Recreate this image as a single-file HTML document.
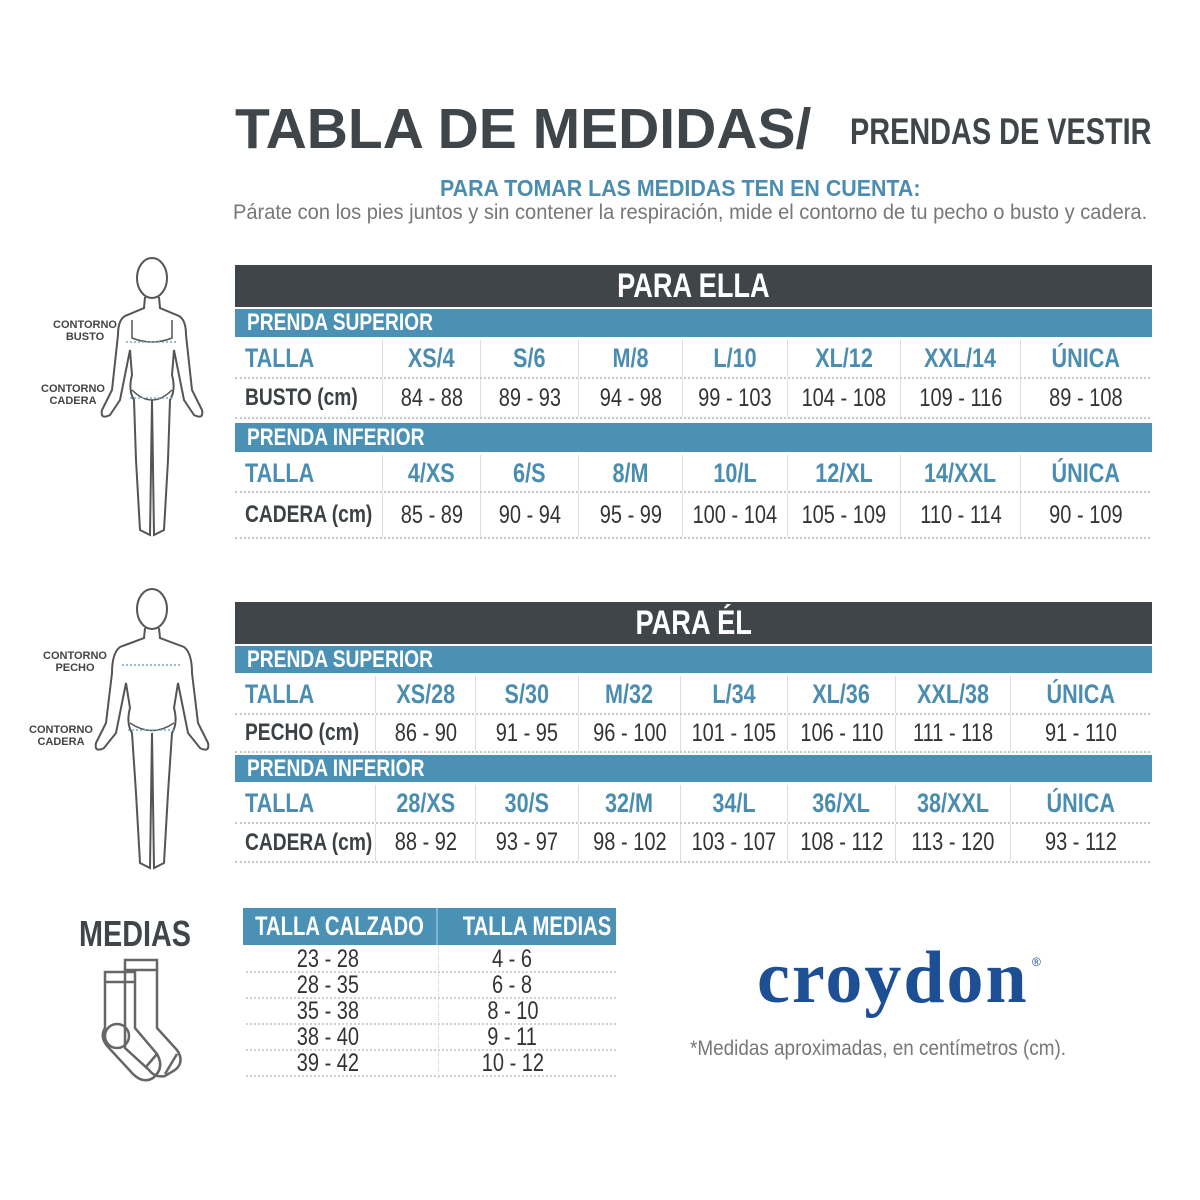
<!DOCTYPE html>
<html><head><meta charset="utf-8">
<style>
*{margin:0;padding:0;box-sizing:border-box}
body{width:1200px;height:1200px;background:#fff;position:relative;overflow:hidden;font-family:"Liberation Sans",sans-serif;color:#333}
.a{position:absolute;white-space:nowrap}
span.n{display:inline-block;transform:scaleX(.8);white-space:nowrap}
span.l{display:inline-block;transform:scaleX(.8);transform-origin:left center;white-space:nowrap}
.hd{background:#3f4549;color:#fff;font-weight:bold;font-size:34px;display:flex;align-items:center;justify-content:center}
.band{background:#4a91b5;color:#fff;font-weight:bold;font-size:24px;display:flex;align-items:center;padding-left:12px}
.row{display:flex;border-bottom:2px dotted #c8c8c8}
.row div{display:flex;align-items:center;justify-content:center;border-left:1.5px solid #ddd;height:100%;white-space:nowrap}
.row div:first-child{border-left:none;justify-content:flex-start;padding-left:10px;font-weight:bold}
.t div{color:#4a8db0;font-weight:bold;font-size:27px}
.v div{color:#333;font-size:25px}
.v div:first-child{color:#3c4145;font-size:24px}
.lbl{font-weight:bold;font-size:11px;color:#444;text-align:center;line-height:12px}
.sr{display:flex;border-bottom:2px dotted #d0d0d0;height:26px;font-size:25px;color:#333}
.sr div{display:flex;align-items:center;justify-content:center}
</style></head><body>

<div class="a" style="left:235px;top:96px;font-weight:bold;font-size:57px;color:#3f4549">TABLA DE MEDIDAS/</div>
<div class="a" style="left:850px;top:111px;font-weight:bold;font-size:37px;color:#3f4549;transform:scaleX(.78);transform-origin:left">PRENDAS DE VESTIR</div>
<div class="a" style="left:440px;top:175px;font-weight:bold;font-size:23px;color:#4a8db0;transform:scaleX(.93);transform-origin:left">PARA TOMAR LAS MEDIDAS TEN EN CUENTA:</div>
<div class="a" style="left:233px;top:201px;font-size:21px;color:#777;transform:scaleX(.955);transform-origin:left">Párate con los pies juntos y sin contener la respiración, mide el contorno de tu pecho o busto y cadera.</div>

<!-- PARA ELLA -->
<div class="a hd" style="left:235px;top:265px;width:917px;height:42px"><span class="n">PARA ELLA</span></div>
<div class="a band" style="left:235px;top:309px;width:917px;height:28px"><span class="l">PRENDA SUPERIOR</span></div>
<div class="a row t" style="left:235px;top:340px;width:915px;height:39px"><div style="width:147px"><span class="l">TALLA</span></div><div style="width:98px"><span class="n">XS/4</span></div><div style="width:98px"><span class="n">S/6</span></div><div style="width:104px"><span class="n">M/8</span></div><div style="width:105px"><span class="n">L/10</span></div><div style="width:113px"><span class="n">XL/12</span></div><div style="width:120px"><span class="n">XXL/14</span></div><div style="width:130px"><span class="n">ÚNICA</span></div></div>
<div class="a row v" style="left:235px;top:379px;width:915px;height:40px"><div style="width:147px"><span class="l">BUSTO (cm)</span></div><div style="width:98px"><span class="n">84 - 88</span></div><div style="width:98px"><span class="n">89 - 93</span></div><div style="width:104px"><span class="n">94 - 98</span></div><div style="width:105px"><span class="n">99 - 103</span></div><div style="width:113px"><span class="n">104 - 108</span></div><div style="width:120px"><span class="n">109 - 116</span></div><div style="width:130px"><span class="n">89 - 108</span></div></div>
<div class="a band" style="left:235px;top:423px;width:917px;height:29px"><span class="l">PRENDA INFERIOR</span></div>
<div class="a row t" style="left:235px;top:455px;width:915px;height:38px"><div style="width:147px"><span class="l">TALLA</span></div><div style="width:98px"><span class="n">4/XS</span></div><div style="width:98px"><span class="n">6/S</span></div><div style="width:104px"><span class="n">8/M</span></div><div style="width:105px"><span class="n">10/L</span></div><div style="width:113px"><span class="n">12/XL</span></div><div style="width:120px"><span class="n">14/XXL</span></div><div style="width:130px"><span class="n">ÚNICA</span></div></div>
<div class="a row v" style="left:235px;top:493px;width:915px;height:46px"><div style="width:147px"><span class="l">CADERA (cm)</span></div><div style="width:98px"><span class="n">85 - 89</span></div><div style="width:98px"><span class="n">90 - 94</span></div><div style="width:104px"><span class="n">95 - 99</span></div><div style="width:105px"><span class="n">100 - 104</span></div><div style="width:113px"><span class="n">105 - 109</span></div><div style="width:120px"><span class="n">110 - 114</span></div><div style="width:130px"><span class="n">90 - 109</span></div></div>

<!-- PARA EL -->
<div class="a hd" style="left:235px;top:602px;width:917px;height:42px"><span class="n">PARA ÉL</span></div>
<div class="a band" style="left:235px;top:646px;width:917px;height:27px"><span class="l">PRENDA SUPERIOR</span></div>
<div class="a row t" style="left:235px;top:676px;width:915px;height:39px"><div style="width:140px"><span class="l">TALLA</span></div><div style="width:100px"><span class="n">XS/28</span></div><div style="width:103px"><span class="n">S/30</span></div><div style="width:102px"><span class="n">M/32</span></div><div style="width:107px"><span class="n">L/34</span></div><div style="width:108px"><span class="n">XL/36</span></div><div style="width:115px"><span class="n">XXL/38</span></div><div style="width:140px"><span class="n">ÚNICA</span></div></div>
<div class="a row v" style="left:235px;top:715px;width:915px;height:38px"><div style="width:140px"><span class="l">PECHO (cm)</span></div><div style="width:100px"><span class="n">86 - 90</span></div><div style="width:103px"><span class="n">91 - 95</span></div><div style="width:102px"><span class="n">96 - 100</span></div><div style="width:107px"><span class="n">101 - 105</span></div><div style="width:108px"><span class="n">106 - 110</span></div><div style="width:115px"><span class="n">111 - 118</span></div><div style="width:140px"><span class="n">91 - 110</span></div></div>
<div class="a band" style="left:235px;top:755px;width:917px;height:27px"><span class="l">PRENDA INFERIOR</span></div>
<div class="a row t" style="left:235px;top:785px;width:915px;height:39px"><div style="width:140px"><span class="l">TALLA</span></div><div style="width:100px"><span class="n">28/XS</span></div><div style="width:103px"><span class="n">30/S</span></div><div style="width:102px"><span class="n">32/M</span></div><div style="width:107px"><span class="n">34/L</span></div><div style="width:108px"><span class="n">36/XL</span></div><div style="width:115px"><span class="n">38/XXL</span></div><div style="width:140px"><span class="n">ÚNICA</span></div></div>
<div class="a row v" style="left:235px;top:824px;width:915px;height:39px"><div style="width:140px"><span class="l">CADERA (cm)</span></div><div style="width:100px"><span class="n">88 - 92</span></div><div style="width:103px"><span class="n">93 - 97</span></div><div style="width:102px"><span class="n">98 - 102</span></div><div style="width:107px"><span class="n">103 - 107</span></div><div style="width:108px"><span class="n">108 - 112</span></div><div style="width:115px"><span class="n">113 - 120</span></div><div style="width:140px"><span class="n">93 - 112</span></div></div>

<!-- figures -->
<svg class="a" style="left:90px;top:250px" width="130" height="295" viewBox="0 0 130 295" fill="none" stroke="#555" stroke-width="2">
<ellipse cx="62" cy="28" rx="15" ry="20"/>
<path d="M55 47 L54 58 L35 66 Q28 70 28 85 L22 140 L12 160 Q10 170 20 165 L30 150 L40 100 L42 125 Q38 140 44 150 L46 210 L50 280 L60 285 L62 150 M69 47 L70 58 L89 66 Q96 70 96 85 L102 140 L112 160 Q114 170 104 165 L94 150 L84 100 L82 125 Q86 140 80 150 L78 210 L74 280 L64 285 L62 150"/>
<path d="M42 70 L42 88 Q62 96 82 88 L82 70" stroke-width="1.5"/>
<path d="M42 140 Q62 160 82 140" stroke-width="1.5"/>
<line x1="36" y1="92" x2="88" y2="92" stroke="#7ab" stroke-dasharray="2 2" stroke-width="1.5"/>
<line x1="40" y1="148" x2="84" y2="148" stroke="#7ab" stroke-dasharray="2 2" stroke-width="1.5"/>
</svg>
<div class="a lbl" style="left:50px;top:319px;width:70px">CONTORNO<br>BUSTO</div>
<div class="a lbl" style="left:38px;top:383px;width:70px">CONTORNO<br>CADERA</div>

<svg class="a" style="left:90px;top:583px" width="130" height="295" viewBox="0 0 130 295" fill="none" stroke="#555" stroke-width="2">
<ellipse cx="62" cy="26" rx="15" ry="20"/>
<path d="M55 45 L54 55 L30 64 Q22 70 22 90 L16 140 L6 160 Q4 170 14 165 L26 150 L36 100 L40 125 Q36 140 42 150 L46 210 L50 280 L60 285 L62 150 M69 45 L70 55 L94 64 Q102 70 102 90 L108 140 L118 160 Q120 170 110 165 L98 150 L88 100 L84 125 Q88 140 82 150 L78 210 L74 280 L64 285 L62 150"/>
<path d="M40 140 Q62 155 84 140" stroke-width="1.5"/>
<line x1="32" y1="82" x2="92" y2="82" stroke="#7ab" stroke-dasharray="2 2" stroke-width="1.5"/>
<line x1="38" y1="147" x2="86" y2="147" stroke="#7ab" stroke-dasharray="2 2" stroke-width="1.5"/>
</svg>
<div class="a lbl" style="left:40px;top:650px;width:70px">CONTORNO<br>PECHO</div>
<div class="a lbl" style="left:26px;top:724px;width:70px">CONTORNO<br>CADERA</div>

<!-- medias -->
<div class="a" style="left:79px;top:913px;font-weight:bold;font-size:36px;color:#3f4549;transform:scaleX(.8);transform-origin:left">MEDIAS</div>
<svg class="a" style="left:95px;top:958px" width="100" height="125" viewBox="0 0 100 125" fill="none" stroke="#666" stroke-width="2.5">
<path d="M30 2 H62 V70 L82 92 Q90 104 80 112 L70 118 Q60 120 54 112 L30 90 Z M30 12 H62"/>
<path d="M10 14 H40 V70 L62 96 Q70 110 58 120 Q48 126 38 116 L14 90 Q4 80 10 70 Z M10 24 H40"/>
<circle cx="22" cy="78" r="12"/>
<path d="M50 110 L62 96 M70 116 L82 96"/>
</svg>
<div class="a" style="left:243px;top:908px;width:373px;height:37px;background:#4a91b5;display:flex;color:#fff;font-weight:bold;font-size:27px">
<div style="width:195px;display:flex;align-items:center;justify-content:center;border-right:2px solid #7fb4cf"><span class="n" style="transform:scaleX(.75)">TALLA CALZADO</span></div><div style="flex:1;display:flex;align-items:center;justify-content:center"><span class="n" style="transform:scaleX(.75)">TALLA MEDIAS</span></div></div>
<div class="a" style="left:438px;top:945px;width:0;height:133px;border-left:1.5px dotted #ccc"></div>
<div class="a" style="left:246px;top:947px;width:370px">
<div class="sr"><div style="width:163px"><span class="n">23 - 28</span></div><div style="width:207px"><span class="n">4 - 6</span></div></div>
<div class="sr"><div style="width:163px"><span class="n">28 - 35</span></div><div style="width:207px"><span class="n">6 - 8</span></div></div>
<div class="sr"><div style="width:163px"><span class="n">35 - 38</span></div><div style="width:207px"><span class="n">8 - 10</span></div></div>
<div class="sr"><div style="width:163px"><span class="n">38 - 40</span></div><div style="width:207px"><span class="n">9 - 11</span></div></div>
<div class="sr"><div style="width:163px"><span class="n">39 - 42</span></div><div style="width:207px"><span class="n">10 - 12</span></div></div>
</div>

<div class="a" style="left:757px;top:936px;font-family:'Liberation Serif',serif;font-weight:bold;font-size:74px;color:#1c4f93;letter-spacing:2px">croydon</div>
<div class="a" style="left:1032px;top:955px;font-size:12px;color:#1c4f93">®</div>
<div class="a" style="left:690px;top:1037px;font-size:21px;color:#777;transform:scaleX(.9);transform-origin:left">*Medidas aproximadas, en centímetros (cm).</div>
</body></html>
